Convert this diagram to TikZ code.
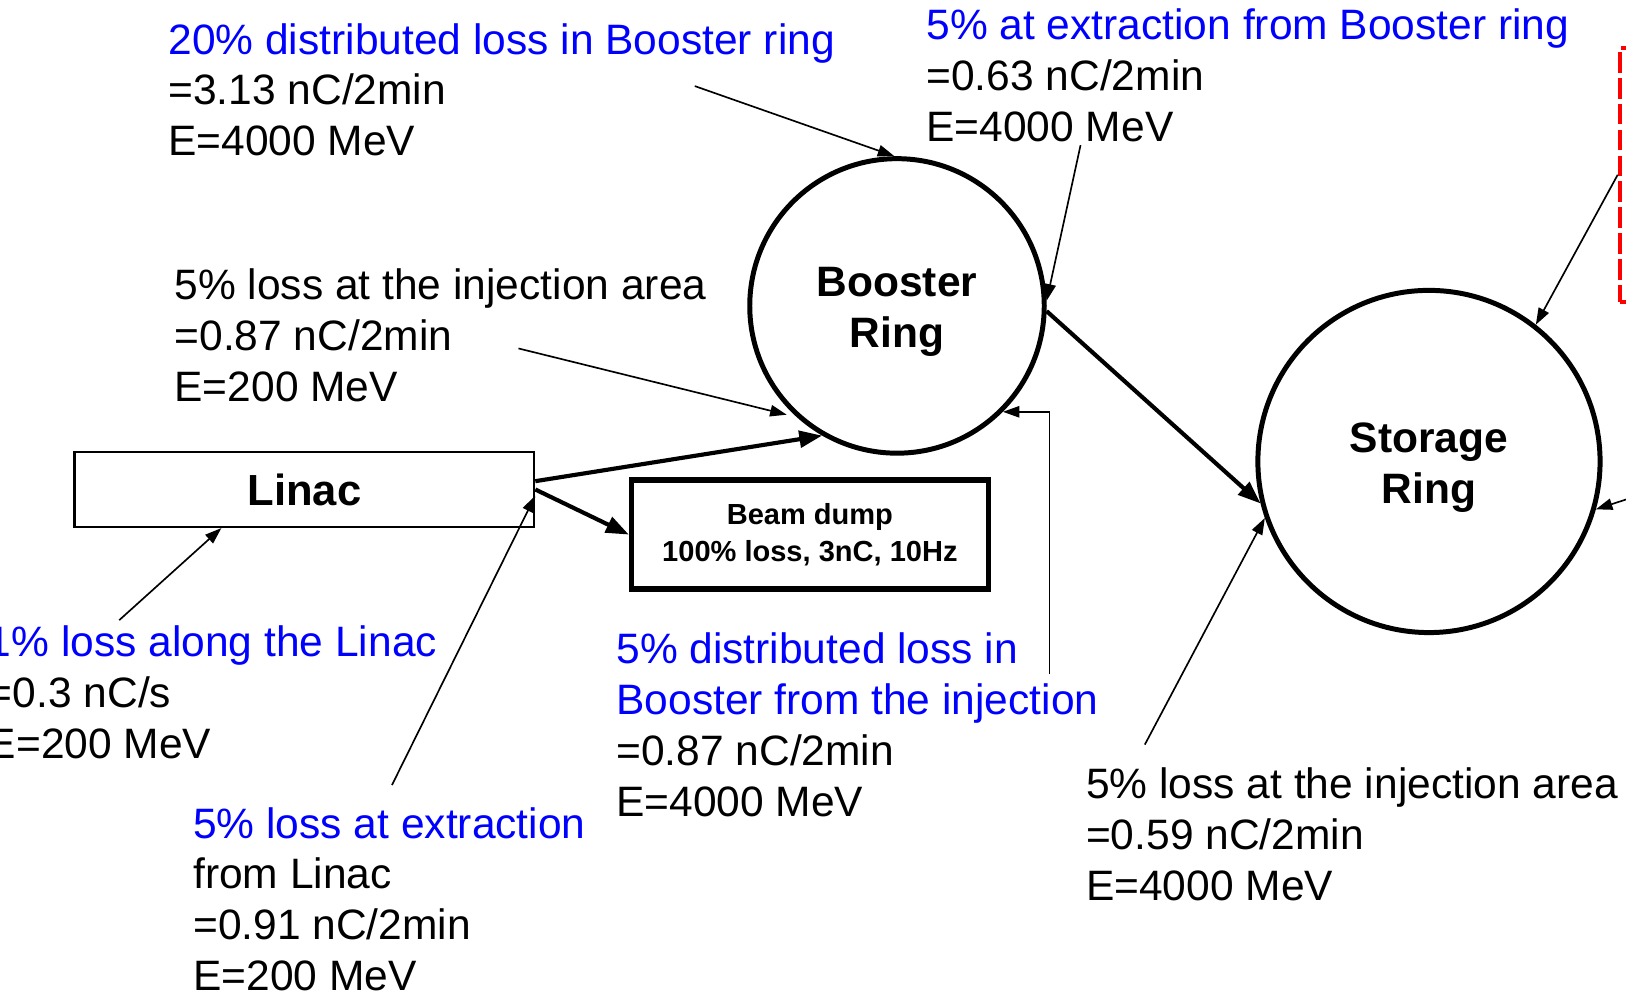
\documentclass[tikz,border=0pt]{standalone}
\usepackage{fontspec}
\setmainfont{Liberation Sans}
\usepackage{xcolor}
\usetikzlibrary{
		positioning,
		arrows.meta
	}
\definecolor{lossblue}{RGB}{0,0,255}
\tikzset{
		>={Triangle[length=8pt,width=5.5pt]},
		ring/.style={circle,draw,line width=2.4pt,inner sep=0pt},
		ringname/.style={align=center,yshift=-3pt,inner sep=0pt,font=\fontsize{20.5}{24.5}\selectfont\bfseries},
		note/.style={anchor=north west,inner sep=0pt,align=left,font=\fontsize{20.5}{24.5}\selectfont},
		lossarrow/.style={->,line width=0.8pt},
		beamarrow/.style={-{Triangle[length=11pt,width=8pt]},line width=2pt}
	}

\begin{document}
\begin{tikzpicture}[x=0.5pt, y=-0.5pt] % one unit = one pixel of the sketch, y going down
		\useasboundingbox (0,0) rectangle (1568,966);
		\clip (0,0) rectangle (1568,966);
		% the machines
		\node[ring, minimum size=142pt, label={[ringname]center:Booster\\Ring}] (booster) at (865,295) {};
		\node[ring, minimum size=165pt, label={[ringname]center:Storage\\Ring}] (storage) at (1378,445) {};
		\node[draw, line width=1.2pt, minimum width=221.5pt, minimum height=36pt,
		  font=\fontsize{21}{25}\selectfont\bfseries] (linac) at (293.5,472) {Linac};
		\node[draw, line width=2.6pt, minimum width=172pt, minimum height=52.5pt, align=center,
		  font=\fontsize{14}{17.5}\selectfont\bfseries] (dump) at (781,515.5) {Beam dump\\100\% loss, 3nC, 10Hz};
		\node[draw=red, line width=2pt, dash pattern=on 10pt off 2.5pt,
		  minimum width=69pt, minimum height=122.5pt] (extbox) at (1631,168.5) {};
		% the losses
		\node[note] (lossBR) at (162,22) {\textcolor{lossblue}{20\% distributed loss in Booster ring}\\=3.13 nC/2min\\E=4000 MeV};
		\node[note] (extrBR) at (893,8) {\textcolor{lossblue}{5\% at extraction from Booster ring}\\=0.63 nC/2min\\E=4000 MeV};
		\node[note] (injBR) at (168,259) {5\% loss at the injection area\\=0.87 nC/2min\\E=200 MeV};
		\node[note] (lossL) at (-12,603) {\textcolor{lossblue}{1\% loss along the Linac}\\=0.3 nC/s\\E=200 MeV};
		\node[note] (extrL) at (186,778) {\textcolor{lossblue}{5\% loss at extraction}\\from Linac\\=0.91 nC/2min\\E=200 MeV};
		\node[note] (distBR) at (594,610) {\textcolor{lossblue}{5\% distributed loss in}\\\textcolor{lossblue}{Booster from the injection}\\=0.87 nC/2min\\E=4000 MeV};
		\node[note] (injSR) at (1047,740) {5\% loss at the injection area\\=0.59 nC/2min\\E=4000 MeV};
		% free ends of the pointers
		\coordinate (lossBRtail) at (670,83);
		\coordinate (extrBRtail) at (1042,140);
		\coordinate (injBRtail) at (500,336);
		\coordinate (lossLtail) at (115,598);
		\coordinate (extrLtail) at (378,757);
		\coordinate (distBRtail) at (1012,650);
		\coordinate (injSRtail) at (1104,718);
		\coordinate (rightTail) at (1610,468);
		\draw[lossarrow] (lossBRtail) -- (booster.91);
		\draw[lossarrow] (extrBRtail) -- (booster.2);
		\draw[lossarrow, shorten >=5pt] (injBRtail) -- (booster.228);
		\draw[lossarrow] (lossLtail) -- ([xshift=-40pt]linac.south);
		\draw[lossarrow] (extrLtail) -- ([yshift=-3pt]linac.east);
		\draw[lossarrow] (distBRtail) |- (booster.315);
		\draw[lossarrow] (injSRtail) -- (storage.199);
		\draw[lossarrow] (extbox.west) -- (storage.52);
		\draw[lossarrow] (rightTail) -- (storage.-16);
		% the beam
		\draw[beamarrow] ([yshift=4pt]linac.east) -- (booster.240);
		\draw[beamarrow] (linac.east) -- (dump.west);
		\draw[beamarrow] (booster.-2) -- (storage.194);
	\end{tikzpicture}
\end{document}
